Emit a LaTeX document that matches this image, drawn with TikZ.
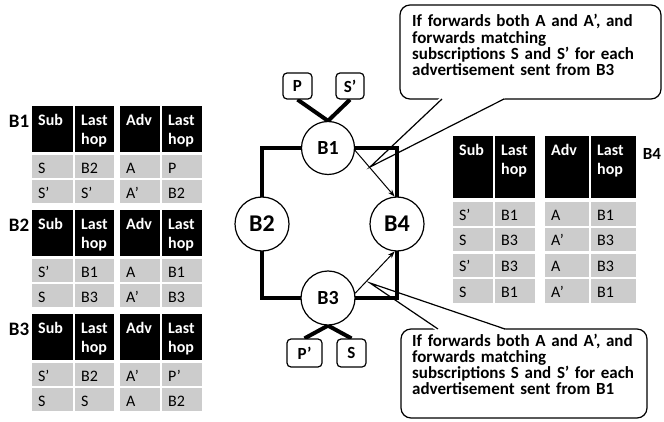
\documentclass[tikz,border=0pt]{standalone}
\usepackage{fontspec}
\setmainfont{Carlito}
\usetikzlibrary{arrows.meta}
\definecolor{cellgray}{RGB}{204,204,204}
\pgfdeclarelayer{calloutlayer}
\pgfdeclarelayer{linklayer}
\pgfsetlayers{calloutlayer,linklayer,main}
\newcommand\fsz[2]{\fontsize{#1}{#2}\selectfont\lineskiplimit=-20pt\relax}

% header of a left routing table: name prefix, top y, broker label
\newcommand\lhead[3]{%
  \node[hd,text width=29pt,text depth=27pt] (#1a) at (32,#2) {Sub};
  \node[hd,text width=27pt,text depth=27pt] (#1b) at (75,#2) {Last\\hop};
  \node[hd,text width=28pt,text depth=27pt] (#1c) at (120,#2) {Adv};
  \node[hd,text width=28pt,text depth=27pt] (#1d) at (162,#2) {Last\\hop};
  \node[tlabel] (#1l) at (19,#2+15) {#3};}
% one row of a left routing table
\newcommand\lrow[6]{%
  \node[rc,text width=29pt] (#1a) at (32,#2) {#3};
  \node[rc,text width=27pt] (#1b) at (75,#2) {#4};
  \node[rc,text width=28pt] (#1c) at (120,#2) {#5};
  \node[rc,text width=28pt] (#1d) at (162,#2) {#6};}
% one row of the B4 routing table
\newcommand\rrow[6]{%
  \node[rc,rtall,text width=28pt] (#1a) at (453,#2) {#3};
  \node[rc,rtall,text width=28pt] (#1b) at (495,#2) {#4};
  \node[rc,rtall,text width=32pt] (#1c) at (545,#2) {#5};
  \node[rc,rtall,text width=33pt] (#1d) at (591,#2) {#6};}

\begin{document}
\begin{tikzpicture}[x=1pt,y=-1pt,
  hd/.style={anchor=north west, fill=black, text=white, font=\fsz{16}{19}\bfseries,
    inner xsep=6pt, inner ysep=0pt, text height=19pt, align=left},
  rc/.style={anchor=north west, fill=cellgray, text=black, font=\fsz{16}{19},
    inner xsep=6pt, inner ysep=0pt, text height=18pt, text depth=5pt, align=left},
  rtall/.style={text depth=5.5pt},
  tlabel/.style={font=\fsz{19}{22}\bfseries, inner sep=0pt},
  router/.style={circle, draw, line width=1.2pt, fill=white, inner sep=0pt},
  term/.style={draw, line width=1.2pt, rounded corners=4pt, fill=white, inner sep=0pt,
    font=\fsz{17}{20}\bfseries},
  link/.style={line width=4pt},
  arr/.style={line width=1pt, -{Stealth[length=7pt,width=5pt]}},
  callout/.style={draw, line width=1.2pt, fill=white},
  ctext/.style={anchor=base west, inner sep=0pt, text width=245pt, align=left,
    font=\fsz{17}{16.3}\bfseries}]
\useasboundingbox (0,0) rectangle (664,422);

% routing tables of B1, B2, B3
\lhead{ta}{106}{B1}
\lrow{ta1}{155}{S}{B2}{A}{P}
\lrow{ta2}{180}{S’}{S’}{A’}{B2}
\lhead{tb}{210}{B2}
\lrow{tb1}{259}{S’}{B1}{A}{B1}
\lrow{tb2}{284}{S}{B3}{A’}{B3}
\lhead{tc}{314}{B3}
\lrow{tc1}{363}{S’}{B2}{A’}{P’}
\lrow{tc2}{388}{S}{S}{A}{B2}

% routing table of B4
\node[hd,text width=28pt,text depth=43pt] (rha) at (453,136) {Sub};
\node[hd,text width=28pt,text depth=43pt] (rhb) at (495,136) {Last\\hop};
\node[hd,text width=32pt,text depth=43pt] (rhc) at (545,136) {Adv};
\node[hd,text width=33pt,text depth=43pt] (rhd) at (591,136) {Last\\hop};
\node[font=\fsz{17}{20}\bfseries, inner sep=0pt] (rl) at (652,153.5) {B4};
\rrow{r1}{202}{S’}{B1}{A}{B1}
\rrow{r2}{227.7}{S}{B3}{A’}{B3}
\rrow{r3}{253.4}{S’}{B3}{A}{B3}
\rrow{r4}{279.1}{S}{B1}{A’}{B1}

% brokers
\node[router, minimum size=53pt, font=\fsz{20}{24}\bfseries] (B1) at (328,148) {B1};
\node[router, minimum size=54pt, font=\fsz{24}{28}\bfseries] (B2) at (262,224) {B2};
\node[router, minimum size=54pt, font=\fsz{24}{28}\bfseries] (B4) at (397,224) {B4};
\node[router, minimum size=54pt, font=\fsz{20}{24}\bfseries] (B3) at (328,298) {B3};

% publishers and subscribers
\node[term, minimum width=29pt, minimum height=26pt] (P) at (297.5,86) {P};
\node[term, minimum width=28pt, minimum height=26pt] (Sp) at (350,86) {S’};
\node[term, minimum width=35pt, minimum height=28pt] (Pp) at (304.5,353) {P’};
\node[term, minimum width=29pt, minimum height=28pt] (S) at (351.5,353) {S};

% overlay links
\begin{pgfonlayer}{linklayer}
\draw[link] (B2.center) |- (B1.center) -| (B4.center) |- (B3.center) -| (B2.center);
\draw[link] (B1.north) -- (P.south);
\draw[link] (B1.north) -- (Sp.south);
\draw[link] (B3.south) -- (Pp.north);
\draw[link] (B3.south) -- (S.north);
\end{pgfonlayer}

% forwarding towards B4
\draw[arr] (B1.-5) -- (B4.95);
\draw[arr] (B3.10) -- (B4.-95);

% speech bubbles
\begin{pgfonlayer}{calloutlayer}
\coordinate (ctip) at (370,167);
\coordinate (cbl) at (442,99);
\coordinate (cbr) at (504,99);
\filldraw[callout, rounded corners=10pt] (400,5) rectangle (661,99);
\fill[white] (440,97.6) -- (ctip) -- (506,97.6) -- cycle;
\draw[line width=1.2pt] (cbl) -- (ctip) -- (cbr);
\node[ctext] (note1) at (412,27) {If forwards both A and A’, and\\forwards matching\\subscriptions S and S’ for each\\advertisement sent from B3};

\coordinate (dtip) at (370,283);
\coordinate (dbl) at (438,329);
\coordinate (dbr) at (505,329);
\filldraw[callout, rounded corners=10pt] (401,329) rectangle (647,418);
\fill[white] (436,330.4) -- (dtip) -- (507,330.4) -- cycle;
\draw[line width=1.2pt] (dbl) -- (dtip) -- (dbr);
\node[ctext] (note2) at (412,346) {If forwards both A and A’, and\\forwards matching\\subscriptions S and S’ for each\\advertisement sent from B1};
\end{pgfonlayer}
\end{tikzpicture}
\end{document}
